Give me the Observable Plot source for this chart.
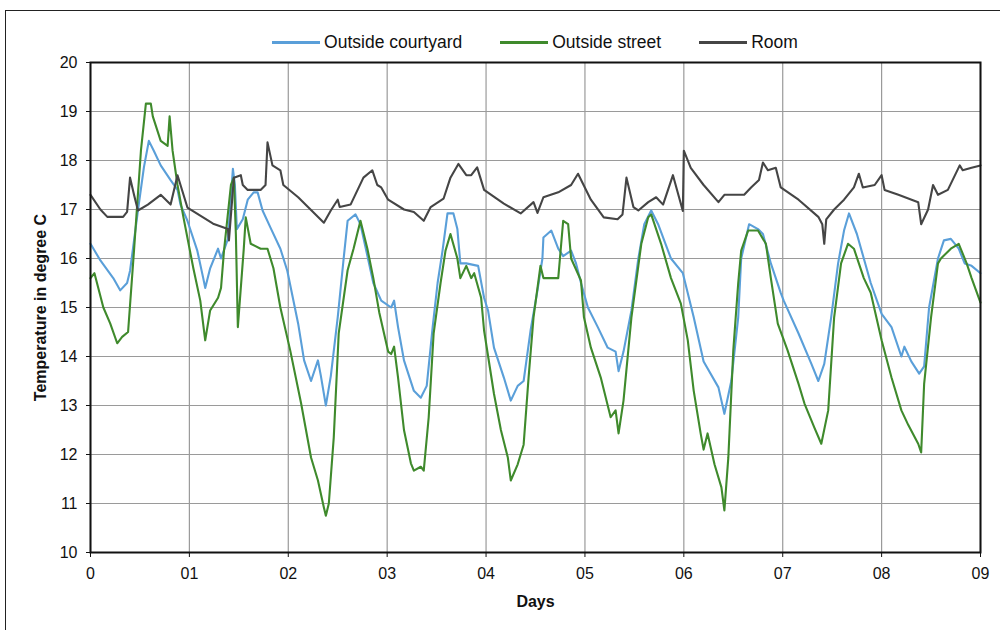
<!DOCTYPE html>
<html>
<head>
<meta charset="utf-8">
<script src="https://cdn.jsdelivr.net/npm/d3@7"></script>
<script src="https://cdn.jsdelivr.net/npm/@observablehq/plot@0.6"></script>
<style>
  html, body { margin: 0; padding: 0; background: #fff; }
  body { font-family: "Liberation Sans", Arial, sans-serif; }
  #wrap { position: relative; width: 1000px; height: 630px; overflow: hidden; }
  #border { position: absolute; left: 5px; top: 10px; width: 1100px; height: 700px; border: 1.5px solid #222; box-sizing: border-box; }
  #legend { position: absolute; left: 90px; width: 890px; top: 32px; display: flex; justify-content: center; gap: 38px; font-size: 17.5px; color: #111; }
  #legend .item { display: flex; align-items: center; }
  #legend .sw { width: 48px; height: 2.5px; margin-right: 4px; }
  #chart { position: absolute; left: 0; top: 0; }
  #chart svg text { font-family: "Liberation Sans", Arial, sans-serif; }
  #chart g[aria-label="x-axis label"] text, #chart g[aria-label="y-axis label"] text { font-weight: bold; font-size: 16px; }
</style>
</head>
<body>
<div id="wrap">
  <div id="border"></div>
  <div id="legend"></div>
  <div id="chart"></div>
</div>
<script>
const seriesNames = ["Outside courtyard", "Outside street", "Room"];
const seriesColors = ["#5a9fd9", "#3f8a2c", "#454545"];
const dayTicks = [0,1,2,3,4,5,6,7,8,9];
const dayLabels = ["0","01","02","03","04","05","06","07","08","09"];
const tempTicks = [10,11,12,13,14,15,16,17,18,19,20];

// [day, temperature °C]
const courtyard = [[0,16.3],[0.10,15.96],[0.23,15.6],[0.30,15.35],[0.37,15.5],[0.40,15.75],[0.48,16.98],[0.54,17.86],[0.59,18.4],[0.64,18.2],[0.71,17.9],[0.81,17.6],[0.88,17.4],[0.91,17.1],[0.98,16.77],[1.08,16.16],[1.14,15.6],[1.16,15.4],[1.21,15.8],[1.29,16.2],[1.32,16.0],[1.39,16.4],[1.44,17.83],[1.46,17.5],[1.48,16.6],[1.54,16.8],[1.59,17.2],[1.65,17.35],[1.69,17.35],[1.74,16.98],[1.82,16.63],[1.92,16.2],[1.99,15.75],[2.10,14.67],[2.16,13.92],[2.23,13.5],[2.30,13.92],[2.33,13.6],[2.38,13.0],[2.43,13.6],[2.50,14.8],[2.56,16.0],[2.60,16.77],[2.68,16.9],[2.73,16.7],[2.86,15.5],[2.94,15.14],[3.04,15.0],[3.07,15.14],[3.11,14.6],[3.17,13.92],[3.27,13.3],[3.34,13.16],[3.40,13.4],[3.46,14.6],[3.51,15.5],[3.56,16.16],[3.61,16.92],[3.67,16.92],[3.71,16.6],[3.74,15.9],[3.80,15.9],[3.92,15.85],[3.98,15.2],[4.02,14.94],[4.08,14.18],[4.18,13.57],[4.25,13.1],[4.32,13.4],[4.38,13.5],[4.45,14.53],[4.52,15.35],[4.57,16.0],[4.58,16.43],[4.66,16.57],[4.73,16.2],[4.78,16.05],[4.86,16.16],[4.91,15.9],[4.96,15.5],[5.03,15.0],[5.13,14.6],[5.23,14.18],[5.31,14.1],[5.34,13.7],[5.39,14.1],[5.47,14.94],[5.54,16.0],[5.60,16.7],[5.67,16.98],[5.74,16.7],[5.84,16.16],[5.87,16.0],[5.99,15.7],[6.10,14.8],[6.20,13.9],[6.35,13.37],[6.41,12.83],[6.48,13.5],[6.55,14.8],[6.58,16.0],[6.66,16.7],[6.75,16.6],[6.80,16.5],[6.88,15.9],[6.98,15.3],[7.01,15.14],[7.16,14.47],[7.29,13.85],[7.36,13.5],[7.42,13.85],[7.49,14.8],[7.56,15.9],[7.62,16.57],[7.67,16.92],[7.75,16.5],[7.82,16.0],[7.89,15.5],[8.00,14.87],[8.10,14.6],[8.20,14.0],[8.23,14.2],[8.30,13.9],[8.38,13.65],[8.43,13.8],[8.48,15.0],[8.57,16.0],[8.63,16.37],[8.70,16.4],[8.78,16.2],[8.84,15.9],[8.91,15.85],[9.0,15.7]];

const street = [[0,15.6],[0.04,15.7],[0.13,15.0],[0.20,14.67],[0.27,14.27],[0.32,14.4],[0.38,14.5],[0.44,16.16],[0.51,18.2],[0.56,19.16],[0.61,19.16],[0.63,18.9],[0.71,18.4],[0.78,18.3],[0.80,18.9],[0.83,18.2],[0.88,17.5],[0.94,16.84],[1.04,15.8],[1.11,15.14],[1.16,14.33],[1.21,14.94],[1.29,15.2],[1.32,15.4],[1.35,16.16],[1.42,17.5],[1.45,17.65],[1.47,16.5],[1.49,14.6],[1.55,16.2],[1.57,16.84],[1.62,16.3],[1.72,16.2],[1.79,16.2],[1.85,15.8],[1.92,15.0],[2.02,14.12],[2.13,13.04],[2.23,11.94],[2.30,11.47],[2.36,10.92],[2.38,10.75],[2.41,11.0],[2.46,12.35],[2.51,14.47],[2.60,15.76],[2.66,16.2],[2.73,16.77],[2.80,16.2],[2.86,15.6],[2.92,14.9],[3.01,14.1],[3.04,14.05],[3.07,14.2],[3.11,13.57],[3.17,12.5],[3.24,11.82],[3.27,11.67],[3.34,11.75],[3.37,11.67],[3.42,12.76],[3.47,14.47],[3.54,15.5],[3.59,16.16],[3.64,16.5],[3.71,16.0],[3.74,15.6],[3.80,15.85],[3.85,15.6],[3.88,15.7],[3.95,15.2],[3.98,14.53],[4.08,13.24],[4.15,12.5],[4.22,11.94],[4.25,11.47],[4.32,11.8],[4.38,12.2],[4.43,13.57],[4.48,14.8],[4.55,15.85],[4.58,15.6],[4.73,15.6],[4.78,16.77],[4.83,16.7],[4.86,16.0],[4.96,15.55],[4.99,14.8],[5.06,14.18],[5.16,13.57],[5.26,12.76],[5.31,12.9],[5.34,12.43],[5.39,13.1],[5.47,14.8],[5.54,15.85],[5.57,16.3],[5.64,16.84],[5.67,16.9],[5.77,16.3],[5.87,15.6],[5.97,15.08],[6.04,14.33],[6.10,13.3],[6.17,12.43],[6.20,12.1],[6.24,12.43],[6.31,11.8],[6.38,11.33],[6.41,10.86],[6.45,11.94],[6.50,14.12],[6.55,15.5],[6.58,16.16],[6.65,16.57],[6.75,16.57],[6.83,16.3],[6.88,15.6],[6.95,14.67],[7.05,14.12],[7.16,13.44],[7.22,13.04],[7.32,12.55],[7.39,12.22],[7.46,12.9],[7.52,14.8],[7.59,15.9],[7.66,16.3],[7.72,16.2],[7.82,15.6],[7.89,15.3],[8.00,14.33],[8.10,13.57],[8.20,12.9],[8.27,12.6],[8.37,12.22],[8.40,12.04],[8.43,13.44],[8.50,14.8],[8.57,15.9],[8.60,16.0],[8.70,16.2],[8.78,16.3],[8.86,15.9],[8.91,15.6],[9.0,15.1]];

const room = [[0,17.3],[0.10,17.0],[0.17,16.85],[0.33,16.85],[0.37,16.95],[0.40,17.65],[0.44,17.3],[0.48,16.98],[0.58,17.1],[0.71,17.3],[0.81,17.1],[0.88,17.7],[0.98,17.04],[1.24,16.71],[1.39,16.6],[1.40,16.37],[1.45,17.65],[1.52,17.7],[1.54,17.5],[1.59,17.4],[1.72,17.4],[1.77,17.5],[1.79,18.37],[1.84,17.9],[1.92,17.8],[1.95,17.5],[2.10,17.25],[2.36,16.73],[2.43,16.98],[2.50,17.2],[2.52,17.05],[2.63,17.1],[2.76,17.65],[2.85,17.8],[2.90,17.5],[2.94,17.45],[3.01,17.2],[3.17,17.0],[3.27,16.95],[3.37,16.77],[3.44,17.05],[3.57,17.22],[3.64,17.65],[3.72,17.93],[3.80,17.7],[3.85,17.7],[3.91,17.86],[3.98,17.4],[4.18,17.12],[4.35,16.92],[4.48,17.15],[4.52,16.93],[4.58,17.25],[4.73,17.35],[4.86,17.5],[4.93,17.73],[5.06,17.2],[5.19,16.84],[5.33,16.8],[5.38,16.9],[5.42,17.65],[5.49,17.05],[5.54,16.98],[5.64,17.15],[5.72,17.25],[5.79,17.1],[5.89,17.7],[5.99,16.97],[6.00,18.2],[6.07,17.85],[6.20,17.5],[6.35,17.15],[6.41,17.3],[6.61,17.3],[6.68,17.45],[6.76,17.6],[6.80,17.96],[6.85,17.8],[6.93,17.85],[6.98,17.45],[7.16,17.2],[7.36,16.85],[7.40,16.7],[7.42,16.3],[7.44,16.8],[7.52,17.0],[7.62,17.2],[7.72,17.45],[7.77,17.73],[7.81,17.45],[7.93,17.5],[8.00,17.7],[8.03,17.4],[8.17,17.3],[8.37,17.15],[8.40,16.7],[8.47,17.0],[8.52,17.5],[8.57,17.3],[8.67,17.4],[8.79,17.9],[8.82,17.8],[8.91,17.85],[9.0,17.9]];

const seriesData = [courtyard, street, room];
const rows = seriesData.flatMap((arr, i) => arr.map(([d, t]) => ({day: d, temp: t, series: seriesNames[i]})));

// Legend
const legend = document.getElementById("legend");
seriesNames.forEach((n, i) => {
  const it = document.createElement("div");
  it.className = "item";
  it.innerHTML = `<span class="sw" style="background:${seriesColors[i]}"></span><span>${n}</span>`;
  legend.appendChild(it);
});

const chart = Plot.plot({
  width: 1000,
  height: 630,
  marginLeft: 90,
  marginRight: 20,
  marginTop: 62,
  marginBottom: 78,
  style: {fontSize: "16px", color: "#111", background: "transparent", overflow: "visible"},
  x: {domain: [0, 9]},
  y: {domain: [10, 20]},
  color: {domain: seriesNames, range: seriesColors},
  marks: [
    Plot.gridX(dayTicks, {stroke: "#9a9a9a", strokeOpacity: 1, strokeWidth: 1.2}),
    Plot.gridY(tempTicks, {stroke: "#9a9a9a", strokeOpacity: 1, strokeWidth: 1.2}),
    Plot.line(rows, {x: "day", y: "temp", z: "series", stroke: "series", strokeWidth: 2.1}),
    Plot.frame({stroke: "#111", strokeWidth: 2}),
    Plot.axisX(dayTicks, {tickFormat: d => dayLabels[d], tickSize: 5, tickPadding: 10, label: "Days", labelAnchor: "center", labelArrow: "none", labelOffset: 54}),
    Plot.axisY(tempTicks, {tickSize: 4, tickPadding: 9, label: "Temperature in degree C", labelAnchor: "center", labelArrow: "none", labelOffset: 56})
  ]
});
document.getElementById("chart").appendChild(chart);
</script>
</body>
</html>
